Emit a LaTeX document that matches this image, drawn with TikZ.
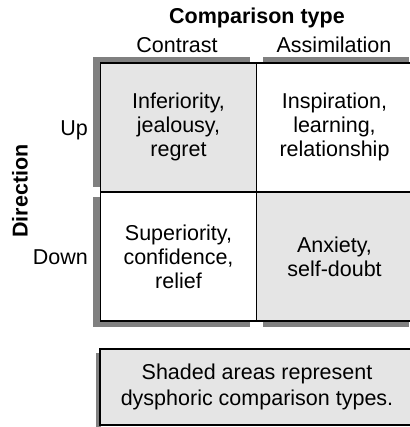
\documentclass[tikz,border=0pt]{standalone}
\usepackage{fontspec}
\setmainfont{Liberation Sans}
\definecolor{cellgray}{HTML}{E5E5E5}
\definecolor{shadowgray}{HTML}{808080}
\begin{document}
\begin{tikzpicture}[x=1pt,y=-1pt,
  shadowbar/.style={fill=shadowgray,draw=none},
  cellbox/.style={draw=black,line width=1.6pt,minimum width=156pt,minimum height=129pt,inner sep=0pt,align=center,font=\fontsize{21.5}{24}\selectfont},
  shaded/.style={cellbox,fill=cellgray},
  plain/.style={cellbox,fill=white},
  lbl/.style={font=\fontsize{21.5}{24}\selectfont,inner sep=0pt},
  boldlbl/.style={font=\fontsize{21.5}{24}\selectfont\bfseries,inner sep=0pt}]
\useasboundingbox (0,0) rectangle (409,427);
% shadow bars
\fill[shadowbar] (93,57) rectangle (250,62.5);
\fill[shadowbar] (263,57) rectangle (409,62.5);
\fill[shadowbar] (93,57) rectangle (100.5,187);
\fill[shadowbar] (93,197) rectangle (100.5,327);
\fill[shadowbar] (93,321) rectangle (250,327);
\fill[shadowbar] (263,321) rectangle (409,327);
% cells
\node[shaded] (ul) at (178.5,127.25) {Inferiority,\\jealousy,\\regret};
\node[plain] (ur) at (334.5,127.25) {Inspiration,\\learning,\\relationship};
\node[plain] (dl) at (178.5,256.5) {Superiority,\\confidence,\\relief};
\node[shaded] (dr) at (334.5,256.5) {Anxiety,\\self-doubt};
% headers
\node[boldlbl] (ctype) at (257,18) {Comparison type};
\node[lbl] (contrast) at (177,45) {Contrast};
\node[lbl] (assim) at (334,45) {Assimilation};
\node[lbl,anchor=east] (up) at (88,130) {Up};
\node[lbl,anchor=east] (down) at (88,257) {Down};
\node[boldlbl,rotate=90] (dir) at (20,191) {Direction};
% footer
\fill[shadowbar] (96,353) rectangle (100.5,427);
\node[draw=black,line width=1.6pt,fill=cellgray,minimum width=314pt,minimum height=76pt,inner sep=0pt,align=center,font=\fontsize{21.5}{26}\selectfont] (note) at (257,387) {Shaded areas represent\\dysphoric comparison types.};
\end{tikzpicture}
\end{document}
